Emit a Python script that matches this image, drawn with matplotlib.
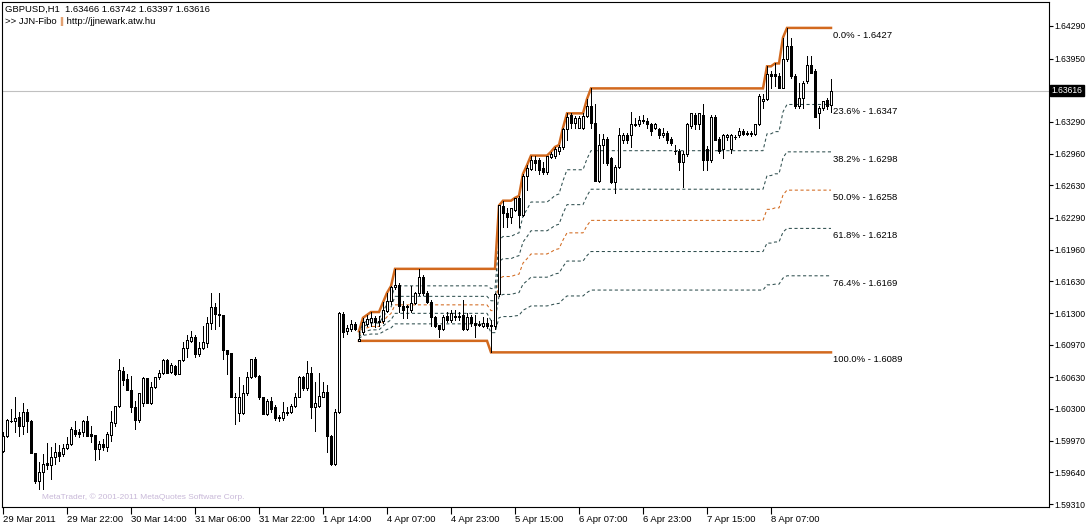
import matplotlib
matplotlib.use("Agg")
import matplotlib.pyplot as plt
import numpy as np

plt.rcParams['font.family'] = ['Liberation Sans', 'DejaVu Sans']

# GBPUSD H1 bars (oldest first)
opens = [
    1.5986, 1.6002, 1.6018, 1.6017, 1.6022, 1.6012, 1.6027, 1.6018, 1.5984, 1.5955,
    1.5964, 1.5974, 1.5972, 1.5980, 1.5985, 1.5983, 1.5989, 1.5994, 1.6008, 1.6006,
    1.6006, 1.6018, 1.6004, 1.6003, 1.5988, 1.5994, 1.5990, 1.6003, 1.6015, 1.6033,
    1.6070, 1.6061, 1.6050, 1.6032, 1.6019, 1.6036, 1.6062, 1.6036, 1.6053, 1.6063,
    1.6067, 1.6081, 1.6069, 1.6075, 1.6066, 1.6081, 1.6094, 1.6101, 1.6105, 1.6087,
    1.6094, 1.6099, 1.6120, 1.6136, 1.6129, 1.6128, 1.6091, 1.6088, 1.6043, 1.6026,
    1.6026, 1.6047, 1.6063, 1.6082, 1.6064, 1.6042, 1.6025, 1.6038, 1.6032, 1.6021,
    1.6021, 1.6026, 1.6027, 1.6033, 1.6043, 1.6063, 1.6052, 1.6068, 1.6032, 1.6033,
    1.6043, 1.6048, 1.6002, 1.5973, 1.6027, 1.6129, 1.6111, 1.6113, 1.6119, 1.6101,
    1.6110, 1.6119, 1.6121, 1.6125, 1.6122, 1.6122, 1.6132, 1.6142, 1.6157, 1.6159,
    1.6137, 1.6136, 1.6133, 1.6140, 1.6151, 1.6167, 1.6151, 1.6141, 1.6126, 1.6117,
    1.6113, 1.6127, 1.6123, 1.6127, 1.6127, 1.6128, 1.6113, 1.6126, 1.6120, 1.6119,
    1.6116, 1.6120, 1.6118, 1.6116, 1.6150, 1.6241, 1.6234, 1.6230, 1.6237, 1.6250,
    1.6232, 1.6273, 1.6280, 1.6289, 1.6289, 1.6281, 1.6277, 1.6293, 1.6294, 1.6299,
    1.6303, 1.6322, 1.6336, 1.6328, 1.6323, 1.6323, 1.6335, 1.6346, 1.6328, 1.6268,
    1.6305, 1.6311, 1.6292, 1.6266, 1.6282, 1.6310, 1.6315, 1.6315, 1.6327, 1.6327,
    1.6331, 1.6330, 1.6327, 1.6323, 1.6322, 1.6315, 1.6318, 1.6311, 1.6299, 1.6299,
    1.6287, 1.6296, 1.6325, 1.6336, 1.6327, 1.6336, 1.6301, 1.6289, 1.6334, 1.6311,
    1.6301, 1.6313, 1.6301, 1.6313, 1.6315, 1.6320, 1.6317, 1.6318, 1.6317, 1.6327,
    1.6351, 1.6353, 1.6379, 1.6379, 1.6377, 1.6364, 1.6395, 1.6408, 1.6377, 1.6346,
    1.6354, 1.6372, 1.6388, 1.6382, 1.6338, 1.6344, 1.6352, 1.63466,
]
highs = [
    1.6006, 1.6020, 1.6030, 1.6042, 1.6027, 1.6036, 1.6030, 1.6019, 1.5984, 1.5975,
    1.5983, 1.5995, 1.5990, 1.5995, 1.5993, 1.5994, 1.6001, 1.6011, 1.6017, 1.6009,
    1.6019, 1.6023, 1.6012, 1.6003, 1.5997, 1.5999, 1.6006, 1.6028, 1.6033, 1.6082,
    1.6074, 1.6066, 1.6064, 1.6038, 1.6047, 1.6063, 1.6062, 1.6058, 1.6063, 1.6071,
    1.6082, 1.6082, 1.6078, 1.6076, 1.6081, 1.6100, 1.6107, 1.6111, 1.6107, 1.6100,
    1.6116, 1.6126, 1.6151, 1.6140, 1.6151, 1.6128, 1.6091, 1.6088, 1.6047, 1.6063,
    1.6055, 1.6069, 1.6082, 1.6084, 1.6065, 1.6043, 1.6040, 1.6043, 1.6034, 1.6024,
    1.6037, 1.6032, 1.6035, 1.6047, 1.6064, 1.6064, 1.6080, 1.6074, 1.6058, 1.6068,
    1.6058, 1.6055, 1.6003, 1.6030, 1.6131, 1.6131, 1.6118, 1.6123, 1.6121, 1.6111,
    1.6125, 1.6128, 1.6131, 1.6127, 1.6127, 1.6141, 1.6151, 1.6158, 1.6176, 1.6161,
    1.6142, 1.6138, 1.6158, 1.6152, 1.6176, 1.6170, 1.6153, 1.6144, 1.6127, 1.6118,
    1.6128, 1.6131, 1.6133, 1.6133, 1.6131, 1.6144, 1.6130, 1.6128, 1.6128, 1.6122,
    1.6126, 1.6125, 1.6123, 1.6151, 1.6242, 1.6247, 1.6239, 1.6239, 1.6250, 1.6252,
    1.6275, 1.6284, 1.6294, 1.6294, 1.6292, 1.6287, 1.6294, 1.6298, 1.6303, 1.6305,
    1.6323, 1.6338, 1.6338, 1.6335, 1.6335, 1.6338, 1.6353, 1.6364, 1.6348, 1.6317,
    1.6317, 1.6313, 1.6293, 1.6284, 1.6323, 1.6318, 1.6318, 1.6339, 1.6333, 1.6335,
    1.6336, 1.6333, 1.6328, 1.6328, 1.6323, 1.6323, 1.6320, 1.6313, 1.6305, 1.6301,
    1.6299, 1.6328, 1.6338, 1.6338, 1.6338, 1.6348, 1.6304, 1.6336, 1.6336, 1.6313,
    1.6317, 1.6317, 1.6317, 1.6315, 1.6323, 1.6322, 1.6320, 1.6320, 1.6327, 1.6358,
    1.6358, 1.6387, 1.6382, 1.6390, 1.6380, 1.6417, 1.6427, 1.6416, 1.6379, 1.6370,
    1.6372, 1.6398, 1.6398, 1.6384, 1.6346, 1.6351, 1.6354, 1.63742,
]
lows = [
    1.5985, 1.6001, 1.6016, 1.6006, 1.6002, 1.6004, 1.6006, 1.5984, 1.5953, 1.5947,
    1.5947, 1.5968, 1.5957, 1.5973, 1.5976, 1.5981, 1.5988, 1.5993, 1.6002, 1.6001,
    1.6002, 1.6002, 1.5996, 1.5977, 1.5978, 1.5987, 1.5986, 1.5997, 1.6012, 1.6032,
    1.6055, 1.6050, 1.6027, 1.6009, 1.6016, 1.6033, 1.6036, 1.6035, 1.6052, 1.6061,
    1.6066, 1.6067, 1.6068, 1.6065, 1.6066, 1.6080, 1.6084, 1.6100, 1.6084, 1.6085,
    1.6092, 1.6095, 1.6113, 1.6113, 1.6116, 1.6082, 1.6066, 1.6042, 1.6014, 1.6017,
    1.6025, 1.6045, 1.6062, 1.6063, 1.6040, 1.6025, 1.6024, 1.6027, 1.6019, 1.6017,
    1.6019, 1.6024, 1.6026, 1.6032, 1.6042, 1.6050, 1.6050, 1.6021, 1.6007, 1.6032,
    1.6042, 1.5985, 1.5972, 1.5972, 1.6026, 1.6105, 1.6108, 1.6111, 1.6112, 1.6101,
    1.6108, 1.6116, 1.6116, 1.6115, 1.6116, 1.6120, 1.6131, 1.6139, 1.6155, 1.6131,
    1.6125, 1.6125, 1.6131, 1.6139, 1.6149, 1.6149, 1.6140, 1.6116, 1.6115, 1.6105,
    1.6112, 1.6121, 1.6121, 1.6123, 1.6123, 1.6112, 1.6112, 1.6116, 1.6105, 1.6116,
    1.6115, 1.6114, 1.6089, 1.6113, 1.6148, 1.6220, 1.6220, 1.6224, 1.6236, 1.6220,
    1.6231, 1.6258, 1.6279, 1.6279, 1.6275, 1.6275, 1.6275, 1.6291, 1.6291, 1.6296,
    1.6301, 1.6310, 1.6323, 1.6323, 1.6323, 1.6322, 1.6334, 1.6323, 1.6268, 1.6266,
    1.6286, 1.6284, 1.6265, 1.6255, 1.6281, 1.6307, 1.6307, 1.6303, 1.6325, 1.6325,
    1.6328, 1.6323, 1.6315, 1.6322, 1.6312, 1.6313, 1.6307, 1.6305, 1.6296, 1.6279,
    1.6261, 1.6294, 1.6323, 1.6322, 1.6322, 1.6279, 1.6279, 1.6287, 1.6310, 1.6297,
    1.6292, 1.6310, 1.6297, 1.6311, 1.6313, 1.6315, 1.6315, 1.6314, 1.6315, 1.6326,
    1.6344, 1.6352, 1.6364, 1.6367, 1.6364, 1.6364, 1.6393, 1.6375, 1.6344, 1.6344,
    1.6344, 1.6370, 1.6380, 1.6334, 1.6323, 1.6341, 1.6343, 1.63397,
]
closes = [
    1.6002, 1.6019, 1.6017, 1.6021, 1.6012, 1.6027, 1.6017, 1.5984, 1.5955, 1.5964,
    1.5973, 1.5972, 1.5980, 1.5985, 1.5981, 1.5989, 1.5994, 1.6009, 1.6004, 1.6004,
    1.6018, 1.6002, 1.6002, 1.5988, 1.5994, 1.5990, 1.6004, 1.6016, 1.6033, 1.6071,
    1.6060, 1.6050, 1.6032, 1.6019, 1.6047, 1.6062, 1.6036, 1.6053, 1.6063, 1.6067,
    1.6081, 1.6068, 1.6076, 1.6066, 1.6081, 1.6094, 1.6102, 1.6105, 1.6087, 1.6094,
    1.6100, 1.6120, 1.6136, 1.6129, 1.6128, 1.6091, 1.6087, 1.6043, 1.6042, 1.6042,
    1.6047, 1.6063, 1.6082, 1.6064, 1.6042, 1.6025, 1.6038, 1.6030, 1.6021, 1.6022,
    1.6027, 1.6027, 1.6033, 1.6043, 1.6063, 1.6052, 1.6068, 1.6032, 1.6036, 1.6044,
    1.6048, 1.6002, 1.5973, 1.6027, 1.6130, 1.6110, 1.6114, 1.6119, 1.6113, 1.6103,
    1.6121, 1.6124, 1.6125, 1.6121, 1.6121, 1.6133, 1.6142, 1.6157, 1.6159, 1.6137,
    1.6133, 1.6137, 1.6140, 1.6151, 1.6167, 1.6151, 1.6141, 1.6126, 1.6116, 1.6113,
    1.6126, 1.6123, 1.6130, 1.6126, 1.6126, 1.6113, 1.6126, 1.6120, 1.6118, 1.6118,
    1.6120, 1.6116, 1.6116, 1.6150, 1.6242, 1.6234, 1.6230, 1.6239, 1.6250, 1.6232,
    1.6273, 1.6281, 1.6289, 1.6286, 1.6279, 1.6277, 1.6294, 1.6296, 1.6301, 1.6303,
    1.6322, 1.6334, 1.6328, 1.6333, 1.6333, 1.6335, 1.6346, 1.6328, 1.6268, 1.6305,
    1.6311, 1.6286, 1.6266, 1.6282, 1.6315, 1.6315, 1.6310, 1.6327, 1.6326, 1.6331,
    1.6330, 1.6327, 1.6320, 1.6327, 1.6315, 1.6318, 1.6310, 1.6307, 1.6299, 1.6287,
    1.6296, 1.6327, 1.6338, 1.6327, 1.6338, 1.6289, 1.6289, 1.6334, 1.6310, 1.6299,
    1.6315, 1.6315, 1.6315, 1.6313, 1.6320, 1.6317, 1.6318, 1.6316, 1.6327, 1.6356,
    1.6353, 1.6379, 1.6377, 1.6377, 1.6364, 1.6395, 1.6408, 1.6377, 1.6346, 1.6354,
    1.6370, 1.6388, 1.6380, 1.6334, 1.6344, 1.6351, 1.6346, 1.63616,
]

symbol = "GBPUSD,H1"
x_labels = ["29 Mar 2011", "29 Mar 22:00", "30 Mar 14:00", "31 Mar 06:00", "31 Mar 22:00",
            "1 Apr 14:00", "4 Apr 07:00", "4 Apr 23:00", "5 Apr 15:00", "6 Apr 07:00",
            "6 Apr 23:00", "7 Apr 15:00", "8 Apr 07:00"]
y_ticks = [1.64290, 1.63950, 1.63290, 1.62960, 1.62630, 1.62290, 1.61960, 1.61630,
           1.61300, 1.60970, 1.60630, 1.60300, 1.59970, 1.59640, 1.59310]
fibo_ratios = [0.0, 0.236, 0.382, 0.5, 0.618, 0.764, 1.0]
fibo_start = 89   # bar where the JJN-Fibo range starts

ORANGE = '#D2691E'
SLATE = '#2F4F4F'
FS = 6.8
FS_AX = 6.2

W, H = 1087, 524
fig = plt.figure(figsize=(W / 100, H / 100), dpi=100, facecolor='white')
ax = fig.add_axes([2 / W, 17 / H, 1047 / W, 505 / H])
ax.set_facecolor('white')

o, h, l, c = (np.array(a) for a in (opens, highs, lows, closes))
idx = np.arange(len(o))
up = c >= o

# current price line
ax.axhline(c[-1], color='#C0C0C0', lw=0.8, zorder=1)

# candles
ax.vlines(idx, l, h, color='black', lw=0.72, zorder=3, antialiased=False)
ax.bar(idx[up], c[up] - o[up], bottom=o[up], width=0.6, facecolor='white',
       edgecolor='black', lw=0.5, zorder=4, antialiased=False)
ax.bar(idx[~up], o[~up] - c[~up], bottom=c[~up], width=0.6, facecolor='black',
       edgecolor='black', lw=0.5, zorder=4, antialiased=False)

# fibo levels from running high / low
seg = idx[fibo_start:]
top = np.maximum.accumulate(h[fibo_start:])
bot = np.minimum.accumulate(l[fibo_start:])
for r in fibo_ratios:
    lvl = top - r * (top - bot)
    if r in (0.0, 1.0):
        ax.plot(seg, lvl, color=ORANGE, lw=1.8, zorder=2, solid_joinstyle='miter')
    else:
        col = ORANGE if r == 0.5 else SLATE
        ax.plot(seg, lvl, color=col, lw=0.75, ls=(0, (3, 2.5)), zorder=2)
    ax.annotate(f"{r * 100:.1f}% - {lvl[-1]:.4f}", xy=(seg[-1], lvl[-1]),
                xytext=(1.2, -2), textcoords='offset points', ha='left', va='top',
                fontsize=FS, color='black')

ax.set_xlim(-0.25, 261.5)
ax.set_ylim(1.59279, 1.64540)

for s in ax.spines.values():
    s.set_color('black')
    s.set_linewidth(0.8)

ax.yaxis.tick_right()
ax.set_yticks(y_ticks)
ax.set_yticklabels([f"{v:.5f}" for v in y_ticks])
ax.tick_params(axis='y', direction='out', length=3, width=0.8, pad=1, labelsize=FS_AX)
ax.set_xticks(idx[::16][:len(x_labels)])
ax.set_xticklabels(x_labels)
ax.tick_params(axis='x', direction='out', length=5, width=0.8, pad=1, labelsize=FS)
for t in ax.get_xticklabels():
    t.set_horizontalalignment('left')

# current price marker on the axis
ax.annotate(f"{c[-1]:.5f}", xy=(1, c[-1]), xycoords=('axes fraction', 'data'),
            xytext=(2, 0), textcoords='offset points', ha='left', va='center',
            fontsize=FS_AX, color='white',
            bbox=dict(boxstyle='square,pad=0.15', fc='black', ec='black'))

# header texts
fig.text(5 / W, 1 - 9 / H, f"{symbol}  {o[-1]:.5f} {h[-1]:.5f} {l[-1]:.5f} {c[-1]:.5f}",
         fontsize=FS, va='center', ha='left')
renderer = fig.canvas.get_renderer()
x0 = 5
for part, col in [(">> JJN-Fibo ", 'black'), ("||", ORANGE), (" http://jjnewark.atw.hu", 'black')]:
    t = fig.text(x0 / W, 1 - 21 / H, part, fontsize=FS, va='center', ha='left', color=col)
    x0 += t.get_window_extent(renderer).width

fig.text(42 / W, 1 - 497 / H, "MetaTrader, \u00a9 2001-2011 MetaQuotes Software Corp.",
         fontsize=6, va='center', ha='left', color='#C8B8D8')

fig.savefig('out.png', dpi=100, facecolor='white')
